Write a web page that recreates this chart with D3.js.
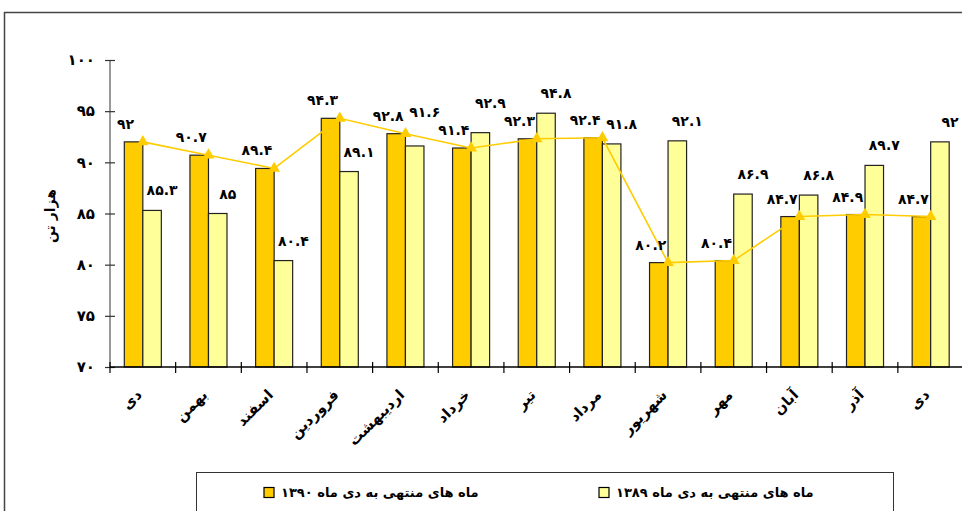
<!DOCTYPE html>
<html><head><meta charset="utf-8">
<script src="https://cdn.jsdelivr.net/npm/d3@7"></script>
<style>
html,body{margin:0;padding:0;background:#fff;}
svg{display:block;font-family:"DejaVu Sans",sans-serif;}
</style></head>
<body>
<svg id="chart" width="962" height="511"></svg>
<script>
const categories = ["دی","بهمن","اسفند","فروردین","اردیبهشت","خرداد","تیر","مرداد","شهریور","مهر","آبان","آذر","دی"];
const values1390 = [92, 90.7, 89.4, 94.3, 92.8, 91.4, 92.3, 92.4, 80.2, 80.4, 84.7, 84.9, 84.7];
const values1389 = [85.3, 85, 80.4, 89.1, 91.6, 92.9, 94.8, 91.8, 92.1, 86.9, 86.8, 89.7, 92];
const yTicks = [70, 75, 80, 85, 90, 95, 100];
const seriesNames = ["ماه های منتهی به دی ماه ۱۳۹۰", "ماه های  منتهی به دی ماه ۱۳۸۹"];
const yTitle = "هزار تن";

const fa = s => String(s).replace(/\d/g, d => "۰۱۲۳۴۵۶۷۸۹"[d]);
const C1 = "#FFCC00", C2 = "#FFFF99";
const NUMFONT = "'DejaVu Sans',sans-serif";

const svg = d3.select("#chart");

// outer chart border
svg.append("path").attr("d","M4.5,511 L4.5,12.5 L962,12.5")
  .attr("fill","none").attr("stroke","#444").attr("stroke-width",1.5);

const x = d3.scaleBand().domain(d3.range(categories.length))
  .range([110, 963.5]).paddingInner(0.436).paddingOuter(0.218);
const y = d3.scaleLinear().domain([70, 100]).range([367, 60]);
const bw = x.bandwidth() / 2;
const step = x.step();

// bars
const g = svg.append("g");
g.selectAll("rect.s1").data(values1390).join("rect").attr("class","s1")
  .attr("x",(d,i)=>x(i)).attr("width",bw)
  .attr("y",d=>y(d)).attr("height",d=>y(70)-y(d))
  .attr("fill",C1).attr("stroke","#222").attr("stroke-width",1.2);
g.selectAll("rect.s2").data(values1389).join("rect").attr("class","s2")
  .attr("x",(d,i)=>x(i)+bw).attr("width",bw)
  .attr("y",d=>y(d)).attr("height",d=>y(70)-y(d))
  .attr("fill",C2).attr("stroke","#222").attr("stroke-width",1.2);

// y axis
const yAxis = svg.append("g").attr("transform","translate(110,0)")
  .call(d3.axisLeft(y).tickValues(yTicks).tickFormat(fa).tickSize(5));
yAxis.select(".domain").attr("stroke","#777").attr("stroke-width",1.5).attr("d","M0,60V367");
yAxis.selectAll(".tick line").attr("x1",-5).attr("x2",5).attr("stroke","#333").attr("stroke-width",1.2);
yAxis.selectAll(".tick text").attr("x",-15).attr("font-size",15).attr("font-weight","bold")
  .attr("font-family",NUMFONT).attr("fill","#000");

// x axis
svg.append("line").attr("x1",110).attr("x2",962).attr("y1",367).attr("y2",367)
  .attr("stroke","#000").attr("stroke-width",1.5);
svg.selectAll("line.xt").data(d3.range(categories.length+1)).join("line").attr("class","xt")
  .attr("x1",i=>110+i*step).attr("x2",i=>110+i*step).attr("y1",362).attr("y2",373)
  .attr("stroke","#000").attr("stroke-width",1.2);
svg.selectAll("text.xl").data(categories).join("text").attr("class","xl")
  .attr("transform",(d,i)=>`translate(${x(i)+bw-3},${393}) rotate(-45)`)
  .attr("text-anchor","end").attr("dominant-baseline","middle")
  .attr("font-size",14.5).attr("font-weight","bold").text(d=>d);

// y title
svg.append("text").attr("transform","translate(51,216) rotate(-90)")
  .attr("text-anchor","middle").attr("dominant-baseline","middle")
  .attr("font-size",14).attr("font-weight","bold").text(yTitle);

// line for 1390
const line = d3.line().x((d,i)=>x(i)+bw).y(d=>y(d));
svg.append("path").datum(values1390).attr("d",line)
  .attr("fill","none").attr("stroke",C1).attr("stroke-width",1.6);
const tri = d3.symbol().type(d3.symbolTriangle).size(60);
svg.selectAll("path.mk").data(values1390).join("path").attr("class","mk")
  .attr("transform",(d,i)=>`translate(${x(i)+bw},${y(d)})`)
  .attr("d",tri).attr("fill",C1);

// data labels
const l1 = svg.selectAll("text.l1").data(values1390).join("text").attr("class","l1")
  .attr("x",(d,i)=>x(i)+bw/2-8).attr("y",d=>y(d)-17)
  .attr("text-anchor","middle").attr("dominant-baseline","middle")
  .attr("font-family",NUMFONT)
  .attr("font-size",14).attr("font-weight","bold").text(d=>fa(d));
const l2 = svg.selectAll("text.l2").data(values1389).join("text").attr("class","l2")
  .attr("x",(d,i)=>x(i)+bw*1.5+10).attr("y",d=>y(d)-19)
  .attr("text-anchor","middle").attr("dominant-baseline","middle")
  .attr("font-family",NUMFONT)
  .attr("font-size",14).attr("font-weight","bold").text(d=>fa(d));

// collision avoidance: lift the previous category's light label if it touches a dark label
const n1 = l1.nodes(), n2 = l2.nodes();
const ov = (a,b)=>!(a.x+a.width+2<b.x||b.x+b.width+2<a.x||a.y+a.height<b.y||b.y+b.height<a.y);
for (let i=1;i<n1.length;i++){
  const a = n1[i].getBBox(), b = n2[i-1].getBBox();
  if (ov(a,b)) {
    const dy = (b.y+b.height) - a.y + 2;
    n2[i-1].setAttribute("y", +n2[i-1].getAttribute("y") - dy);
  }
}

// legend
svg.append("rect").attr("x",196.5).attr("y",472.5).attr("width",697).attr("height",45)
  .attr("fill","#fff").attr("stroke","#333").attr("stroke-width",1);
const legX = [264, 599];
const legColors = [C1, C2];
seriesNames.forEach((n,i)=>{
  svg.append("rect").attr("x",legX[i]).attr("y",487.5).attr("width",10).attr("height",10)
    .attr("fill",legColors[i]).attr("stroke","#000").attr("stroke-width",1.2);
  svg.append("text").attr("x",legX[i]+17).attr("y",493).attr("dominant-baseline","middle")
    .attr("font-size",13).attr("font-weight","bold").attr("direction","rtl")
    .attr("text-anchor","end").text(n);
});
</script>
</body></html>
